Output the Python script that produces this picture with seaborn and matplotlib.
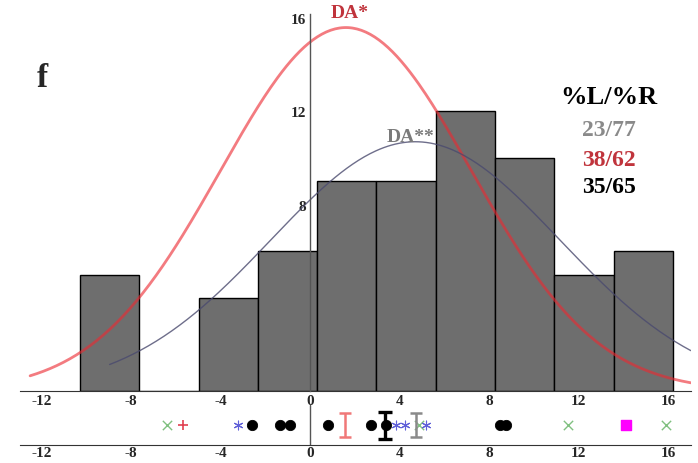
import numpy as np
import pandas as pd
import seaborn as sns
import matplotlib.pyplot as plt

sns.set_style("white")
plt.rcParams['font.family'] = ['Liberation Serif', 'DejaVu Serif']
plt.rcParams['font.weight'] = 'bold'
plt.rcParams['axes.unicode_minus'] = False

# histogram (bins)
bin_start = -10.27
bin_width = 2.647
counts = [5, 0, 4, 6, 9, 9, 12, 10, 5, 6]

# fitted normal curves: mean, sd, peak height, drawn range
red_fit = dict(mu=1.6, sd=5.6, peak=15.6, lo=-12.5, hi=17.0)
grey_fit = dict(mu=4.7, sd=6.45, peak=10.7, lo=-8.95, hi=17.0)

# strip of individual points below the histogram
dots = [-2.59, -1.34, -0.89, 0.80, 2.72, 3.39, 8.48, 8.75]
stars = [-3.21, 3.84, 4.24, 5.18]
crosses = [-6.38, 4.85, 11.5, 15.9]
plus = [-5.67]
square = [14.1]
mean_bars = {"red": 1.56, "black": 3.35, "grey": 4.73}

ticks = [-12, -8, -4, 0, 4, 8, 12, 16]
ratio_rows = [("%L/%R", "black"), ("23/77", "#8a8a8a"), ("38/62", "#c0343c"), ("35/65", "black")]

fig = plt.figure(figsize=(6.98, 4.64), dpi=100)
xlim = (-12.95, 17.0)
ax = fig.add_axes([0.0287, 0.155, 0.961, 0.8136])
ax2 = fig.add_axes([0.0287, 0.0388, 0.961, 0.1034])

edges = [bin_start + bin_width * i for i in range(len(counts) + 1)]
hist_df = pd.DataFrame({
    "center": [(edges[i] + edges[i + 1]) / 2 for i in range(len(counts))],
    "count": counts,
})
sns.histplot(data=hist_df, x="center", weights="count", bins=edges, color="#6e6e6e",
             alpha=1, edgecolor="black", linewidth=1, ax=ax)


def normal_curve(p):
    xs = np.linspace(p["lo"], p["hi"], 300)
    return xs, p["peak"] * np.exp(-(xs - p["mu"]) ** 2 / (2 * p["sd"] ** 2))


rx, ry = normal_curve(red_fit)
gx, gy = normal_curve(grey_fit)
sns.lineplot(x=rx, y=ry, color="#ec2a32", alpha=0.62, linewidth=2, ax=ax, zorder=3)
sns.lineplot(x=gx, y=gy, color="#4a4a6e", alpha=0.8, linewidth=1, ax=ax, zorder=3)

ax.text(1.75, 16.05, "DA*", color="#c0343c", fontsize=14, fontweight="bold", ha="center", va="baseline")
ax.text(4.5, 10.73, "DA**", color="#7a7a7a", fontsize=14, fontweight="bold", ha="center", va="baseline")

ax.set_xlim(xlim)
ax.set_ylim(0, 16.2)
ax.set_xlabel("")
ax.set_ylabel("")
ax.set_xticks(ticks)
ax.set_yticks([4, 8, 12, 16])
for s in ["top", "right"]:
    ax.spines[s].set_visible(False)
ax.spines["left"].set_position(("data", 0))
ax.spines["left"].set_color("#555555")
ax.spines["left"].set_linewidth(1)
ax.spines["bottom"].set_color("#333333")
ax.spines["left"].set_zorder(5)
ax.tick_params(axis="x", length=0, pad=2, labelsize=11)
ax.tick_params(axis="y", length=2, pad=1, labelsize=11, direction="out")
ax.patch.set_alpha(0)

# lower strip
yc = 0.41
ax2.axvline(0, ymin=0, ymax=0.83, color="#555555", linewidth=1)
ax2.scatter(crosses, [yc] * len(crosses), marker="x", s=45, color="#80c080", linewidths=1, zorder=2)
ax2.scatter(plus, [yc], marker="+", s=55, color="#e04050", linewidths=1.2, zorder=2)
ax2.scatter(stars, [yc] * len(stars), marker=(6, 2, 0), s=40, color="#6060d8", linewidths=0.8, zorder=3)
sns.scatterplot(x=dots, y=[yc] * len(dots), color="black", s=55, edgecolor="black", ax=ax2, zorder=4)
ax2.scatter(square, [yc], marker="s", s=50, color="#ff00ff", zorder=2)
ax2.errorbar([mean_bars["red"]], [yc], yerr=[0.25], fmt="none", ecolor="#f07878", elinewidth=1.8, capsize=4, capthick=1.8, zorder=5)
ax2.errorbar([mean_bars["black"]], [yc], yerr=[0.28], fmt="none", ecolor="black", elinewidth=2.4, capsize=5, capthick=2.4, zorder=5)
ax2.errorbar([mean_bars["grey"]], [yc], yerr=[0.25], fmt="none", ecolor="#8a8a8a", elinewidth=1.8, capsize=4, capthick=1.8, zorder=5)
ax2.set_xlim(xlim)
ax2.set_ylim(0, 1)
ax2.set_xticks(ticks)
ax2.set_yticks([])
for s in ["top", "right", "left"]:
    ax2.spines[s].set_visible(False)
ax2.spines["bottom"].set_color("#333333")
ax2.tick_params(axis="x", length=0, pad=1, labelsize=11)
ax2.patch.set_alpha(0)

for a in (ax, ax2):
    for lab in a.get_xticklabels() + a.get_yticklabels():
        lab.set_fontweight("bold")

fig.text(42 / 698, 1 - 87 / 464, "f", fontsize=24, fontweight="bold", ha="center", va="baseline")
for (label, col), py in zip(ratio_rows, [98, 130, 160, 188]):
    fig.text(609 / 698, 1 - py / 464, label, color=col, fontweight="bold",
             fontsize=19 if label.startswith("%") else 17, ha="center", va="center")

fig.savefig("out.png", dpi=100)
